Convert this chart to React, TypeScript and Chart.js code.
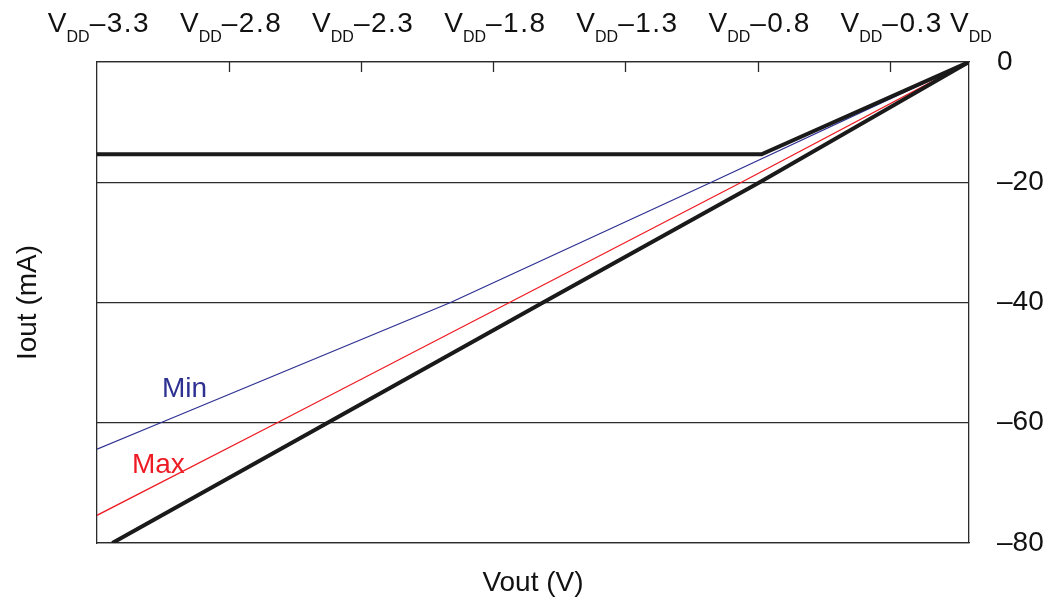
import React, { useEffect, useRef } from 'react';
import { Chart, registerables } from 'chart.js';

Chart.register(...registerables);

const FONT = "'Liberation Sans', Arial, Helvetica, sans-serif";

// Top axis: Vout expressed as offset from VDD (volts)
const topTickValues = [-3.3, -2.8, -2.3, -1.8, -1.3, -0.8, -0.3, 0];
const topTickSuffixes = ['–3.3', '–2.8', '–2.3', '–1.8', '–1.3', '–0.8', '–0.3', ''];

// Right axis: Iout (mA)
const yMin = -80;
const yMax = 0;
const yStep = 20;

// Current-limited curve (thick black with knee)
const limitV = [-3.3, -0.785, 0];
const limitI = [-15.35, -15.35, 0];

// Typical (thick black straight line)
const typV = [-3.242, -2.427, -1.612, -0.792, 0];
const typI = [-80, -60, -40, -20, 0];

// Min (blue)
const minV = [-3.3, -3.059, -1.962, -0.975, 0];
const minI = [-64.4, -60, -40, -20, 0];

// Max (red)
const maxV = [-3.3, -2.618, -1.739, -0.861, 0];
const maxI = [-75.4, -60, -40, -20, 0];

// In-plot series labels
const seriesLabels = ['Min', 'Max'];
const seriesLabelV = [-3.054, -3.168];
const seriesLabelI = [-55.7, -68.3];
const seriesLabelColors = ['#2e3192', '#ed1c24'];

const toPoints = (xs: number[], ys: number[]) => xs.map((x, i) => ({ x, y: ys[i] }));

const overlayPlugin = {
  id: 'overlay',
  afterDraw(chart: any) {
    const ctx = chart.ctx as CanvasRenderingContext2D;
    const xs = chart.scales.x;
    const ys = chart.scales.y;
    ctx.save();
    // inward tick marks on top axis
    ctx.strokeStyle = '#2b2b2b';
    ctx.lineWidth = 1.3;
    topTickValues.forEach((v, i) => {
      if (i === 0 || i === topTickValues.length - 1) return;
      const px = Math.round(xs.getPixelForValue(v)) + 0.5;
      ctx.beginPath();
      ctx.moveTo(px, xs.bottom);
      ctx.lineTo(px, xs.bottom + 10);
      ctx.stroke();
    });
    // top tick labels with subscript DD
    const mainFont = `28px ${FONT}`;
    const subFont = `16px ${FONT}`;
    const baseY = xs.bottom - 30;
    ctx.fillStyle = '#111';
    ctx.textBaseline = 'alphabetic';
    ctx.textAlign = 'left';
    topTickValues.forEach((v, i) => {
      const cx = xs.getPixelForValue(v);
      (ctx as any).letterSpacing = '0px';
      ctx.font = mainFont;
      const wV = ctx.measureText('V').width;
      ctx.font = subFont;
      const wD = ctx.measureText('DD').width;
      ctx.font = mainFont;
      (ctx as any).letterSpacing = '1.5px';
      const wS = topTickSuffixes[i] ? ctx.measureText(topTickSuffixes[i]).width : 0;
      const total = wV + wD + wS;
      let x0 = cx - total / 2 + 2;
      (ctx as any).letterSpacing = '0px';
      ctx.font = mainFont;
      ctx.fillText('V', x0, baseY);
      x0 += wV;
      ctx.font = subFont;
      ctx.fillText('DD', x0, baseY + 10);
      x0 += wD;
      if (topTickSuffixes[i]) {
        ctx.font = mainFont;
        (ctx as any).letterSpacing = '1.5px';
        ctx.fillText(topTickSuffixes[i], x0, baseY);
      }
    });
    (ctx as any).letterSpacing = '0px';
    // series labels
    ctx.font = `28px ${FONT}`;
    seriesLabels.forEach((t, i) => {
      ctx.fillStyle = seriesLabelColors[i];
      ctx.fillText(t, xs.getPixelForValue(seriesLabelV[i]), ys.getPixelForValue(seriesLabelI[i]));
    });
    ctx.restore();
  },
};

export default function App() {
  const canvasRef = useRef<HTMLCanvasElement | null>(null);

  useEffect(() => {
    if (!canvasRef.current) return;
    const borderOpts = { display: true, color: '#2b2b2b', width: 1.3 };
    const chart = new Chart(canvasRef.current, {
      type: 'line',
      data: {
        datasets: [
          {
            data: toPoints(limitV, limitI),
            borderColor: '#1a1a1a',
            borderWidth: 4,
            pointRadius: 0,
            xAxisID: 'x',
            yAxisID: 'y',
          },
          {
            data: toPoints(typV, typI),
            borderColor: '#1a1a1a',
            borderWidth: 4,
            pointRadius: 0,
            xAxisID: 'x',
            yAxisID: 'y',
          },
          {
            data: toPoints(minV, minI),
            borderColor: '#2e3192',
            borderWidth: 1.3,
            pointRadius: 0,
            xAxisID: 'x',
            yAxisID: 'y',
          },
          {
            data: toPoints(maxV, maxI),
            borderColor: '#ed1c24',
            borderWidth: 1.3,
            pointRadius: 0,
            xAxisID: 'x',
            yAxisID: 'y',
          },
        ],
      },
      options: {
        animation: false,
        responsive: true,
        maintainAspectRatio: false,
        layout: { padding: 0 },
        plugins: { legend: { display: false }, tooltip: { enabled: false } },
        scales: {
          x: {
            type: 'linear',
            position: 'top',
            min: -3.3,
            max: 0,
            afterBuildTicks: (s: any) => {
              s.ticks = topTickValues.map((v) => ({ value: v }));
            },
            afterFit: (s: any) => {
              s.height = 62;
            },
            ticks: { display: false },
            grid: { display: false },
            border: borderOpts,
          },
          x2: {
            type: 'linear',
            position: 'bottom',
            min: -3.3,
            max: 0,
            afterFit: (s: any) => {
              s.height = 62;
            },
            ticks: { display: false },
            grid: { display: false },
            border: borderOpts,
            title: {
              display: true,
              text: 'Vout (V)',
              color: '#111',
              font: { family: FONT, size: 28 },
              padding: { top: 0, bottom: 5 },
            },
          },
          y: {
            type: 'linear',
            position: 'right',
            min: yMin,
            max: yMax,
            afterFit: (s: any) => {
              s.width = 85;
            },
            ticks: {
              stepSize: yStep,
              padding: 28,
              color: '#111',
              font: { family: FONT, size: 28 },
              callback: (v: any) => (Number(v) === 0 ? '0' : '–' + Math.abs(Number(v))),
            },
            grid: { display: true, color: '#2b2b2b', lineWidth: 1.2, drawTicks: false },
            border: borderOpts,
          },
          yL: {
            type: 'linear',
            position: 'left',
            min: yMin,
            max: yMax,
            afterFit: (s: any) => {
              s.width = 97;
            },
            ticks: { display: false },
            grid: { display: false },
            border: borderOpts,
            title: {
              display: true,
              text: 'Iout (mA)',
              color: '#111',
              font: { family: FONT, size: 28 },
              padding: { top: 11, bottom: 0 },
            },
          },
        },
      } as any,
      plugins: [overlayPlugin],
    });
    return () => chart.destroy();
  }, []);

  return (
    <div style={{ position: 'fixed', left: 0, top: 0, width: 1054, height: 605, background: '#fff' }}>
      <canvas ref={canvasRef} />
    </div>
  );
}
